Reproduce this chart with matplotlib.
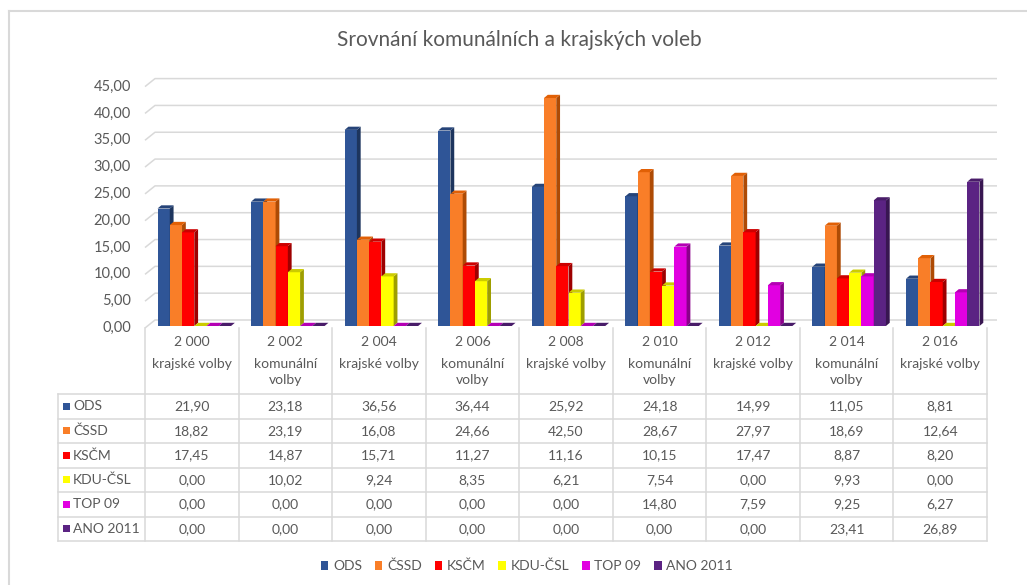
import matplotlib
matplotlib.use("Agg")
import matplotlib.pyplot as plt
from matplotlib.patches import Rectangle, Polygon, Patch
from matplotlib.lines import Line2D
from matplotlib.transforms import blended_transform_factory
import colorsys
import matplotlib.colors as mcolors

plt.rcParams['font.family'] = ['Lato', 'DejaVu Sans']

# data
years = ["2 000", "2 002", "2 004", "2 006", "2 008", "2 010", "2 012", "2 014", "2 016"]
kinds = ["krajské volby", "komunální\nvolby", "krajské volby", "komunální\nvolby",
         "krajské volby", "komunální\nvolby", "krajské volby", "komunální\nvolby", "krajské volby"]
parties = ["ODS", "ČSSD", "KSČM", "KDU-ČSL", "TOP 09", "ANO 2011"]
ods = [21.90, 23.18, 36.56, 36.44, 25.92, 24.18, 14.99, 11.05, 8.81]
cssd = [18.82, 23.19, 16.08, 24.66, 42.50, 28.67, 27.97, 18.69, 12.64]
kscm = [17.45, 14.87, 15.71, 11.27, 11.16, 10.15, 17.47, 8.87, 8.20]
kdu = [0.00, 10.02, 9.24, 8.35, 6.21, 7.54, 0.00, 9.93, 0.00]
top09 = [0.00, 0.00, 0.00, 0.00, 0.00, 14.80, 7.59, 9.25, 6.27]
ano = [0.00, 0.00, 0.00, 0.00, 0.00, 0.00, 0.00, 23.41, 26.89]
series = [ods, cssd, kscm, kdu, top09, ano]
colors = ["#2F5597", "#F97E28", "#FF0000", "#FFFF00", "#E100E1", "#5B2383"]
yticks = [0, 5, 10, 15, 20, 25, 30, 35, 40, 45]

W, H = 1027, 585
TXT = "#595959"
GRID = "#D9D9D9"
FS = 10


def fx(px):
    return px / W


def fy(py):
    return 1 - py / H


def shade(c, f):
    r, g, b = mcolors.to_rgb(c)
    h, l, s = colorsys.rgb_to_hls(r, g, b)
    return colorsys.hls_to_rgb(h, max(0, min(1, l * f)), s)


fig = plt.figure(figsize=(W / 100, H / 100), dpi=100)

# plot area (front plane of the 3D box)
x0, x1, y0, y1 = 145, 987, 328, 86.6
ax = fig.add_axes([fx(x0), fy(y0), fx(x1) - fx(x0), (y0 - y1) / H])
ax.set_xlim(0, len(years))
ax.set_ylim(0, 45)
ax.axis('off')

upx = len(years) / (x1 - x0)   # data units per pixel, x
upy = 45 / (y0 - y1)           # data units per pixel, y

# back wall gridlines with a slanted edge on the left
gdx, gdy = 10 * upx, 8 * upy
for v in yticks:
    ax.plot([0, gdx, len(years) + gdx], [v, v + gdy, v + gdy], color=GRID, lw=1.1,
            clip_on=False, zorder=1, solid_capstyle='butt')
    fig.text(fx(131), fy(y0) + v / upy / H, f"{v:.2f}".replace(".", ","),
             ha='right', va='center', fontsize=10.5, color=TXT)

# 3D-ish columns
bw = 0.131
bx, by = 2.5 * upx, 2 * upy
ddx, ddy = 3.8 * upx, 3.2 * upy
z = 3
for i in range(len(years)):
    start = i + 0.5 - 3 * bw + bx
    for j, vals in enumerate(series):
        v = vals[i]
        c = colors[j]
        x = start + j * bw
        b = by
        if v > 0:
            ax.add_patch(Rectangle((x, b), bw, v, facecolor=c, edgecolor='none', zorder=z,
                                   clip_on=False))
        ax.add_patch(Polygon([(x + bw, b), (x + bw + ddx, b + ddy), (x + bw + ddx, b + v + ddy),
                              (x + bw, b + v)], closed=True, facecolor=shade(c, 0.62),
                             edgecolor='none', zorder=z, clip_on=False))
        ax.add_patch(Polygon([(x, b + v), (x + ddx, b + v + ddy), (x + bw + ddx, b + v + ddy),
                              (x + bw, b + v)], closed=True, facecolor=shade(c, 0.8),
                             edgecolor='none', zorder=z, clip_on=False))
        z += 1

# data table
tr = blended_transform_factory(ax.transData, fig.transFigure)
row_top = 394
row_h = 24.5
bottom = row_top + row_h * len(parties)
for k in range(len(years) + 1):
    fig.add_artist(Line2D([k, k], [fy(y0), fy(bottom)], transform=tr, color=GRID, lw=1.1))
fig.add_artist(Line2D([fx(58), fx(58)], [fy(row_top), fy(bottom)], color=GRID, lw=1.1))
for r in range(len(parties) + 1):
    yy = fy(row_top + r * row_h)
    fig.add_artist(Line2D([fx(58), fx(x1)], [yy, yy], color=GRID, lw=1.1))

for i in range(len(years)):
    fig.text(i + 0.5, fy(342), years[i], transform=tr, ha='center', va='center',
             fontsize=FS, color=TXT)
    fig.text(i + 0.5, fy(357.5), kinds[i], transform=tr, ha='center', va='top',
             fontsize=FS, color=TXT, linespacing=1.4)

for r, name in enumerate(parties):
    yc = fy(row_top + (r + 0.5) * row_h)
    fig.add_artist(Rectangle((fx(63), yc - 3.5 / H), 7 / W, 7 / H, facecolor=colors[r],
                             edgecolor='none', transform=fig.transFigure))
    fig.text(fx(73), yc, name, ha='left', va='center', fontsize=FS, color=TXT)
    for i in range(len(years)):
        fig.text(i + 0.5, yc, f"{series[r][i]:.2f}".replace(".", ","), transform=tr,
                 ha='center', va='center', fontsize=FS, color=TXT)

# title
fig.text(fx(519), fy(40), "Srovnání komunálních a krajských voleb", ha='center', va='center',
         fontsize=15, color=TXT)

# legend
handles = [Patch(facecolor=c, edgecolor='none') for c in colors]
fig.legend(handles, parties, loc='center', bbox_to_anchor=(fx(527), fy(566)), ncol=6,
           frameon=False, handlelength=0.55, handleheight=0.55, handletextpad=0.35,
           columnspacing=0.9, fontsize=FS, labelcolor=TXT)

# chart border (top and left visible)
fig.add_artist(Line2D([fx(8.5), fx(8.5)], [fy(11), 0], color=GRID, lw=1.5))
fig.add_artist(Line2D([fx(8.5), 1], [fy(11), fy(11)], color=GRID, lw=1.5))

fig.savefig("out.png", dpi=100)
